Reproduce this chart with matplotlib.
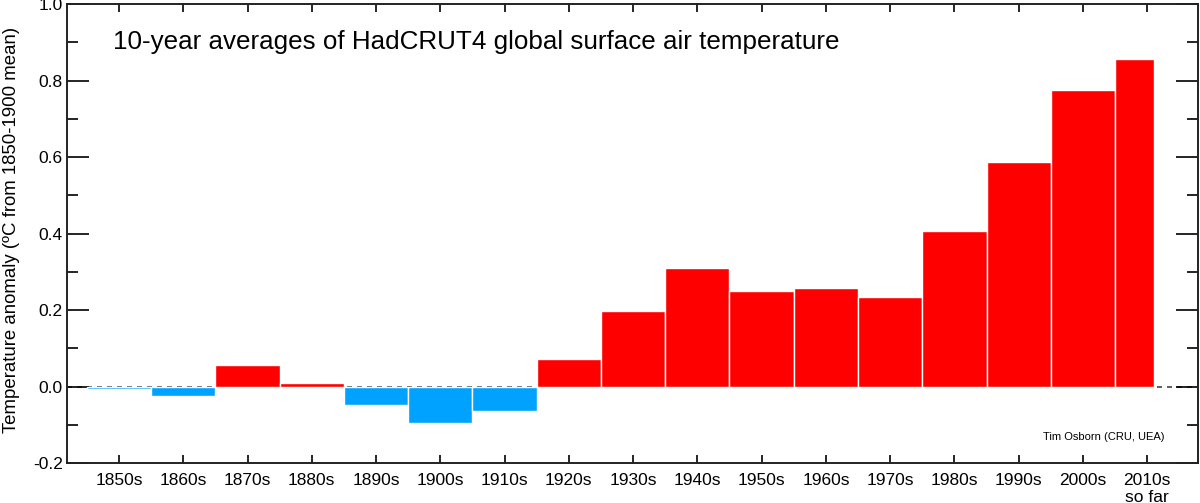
import matplotlib.pyplot as plt
from matplotlib.ticker import MultipleLocator

plt.rcParams["font.family"] = ["Liberation Sans", "DejaVu Sans"]

decades = [1850, 1860, 1870, 1880, 1890, 1900, 1910, 1920, 1930,
           1940, 1950, 1960, 1970, 1980, 1990, 2000, 2010]
widths = [10] * 16 + [6]  # 2010s only covers 2010-2015 so far
anomaly = [-0.007, -0.024, 0.056, 0.010, -0.048, -0.095, -0.065, 0.072, 0.197,
           0.310, 0.249, 0.257, 0.233, 0.407, 0.586, 0.776, 0.855]
labels = [f"{d}s" for d in decades[:-1]] + ["2010s\nso far"]

colors = ["#ff0000" if v > 0 else "#00a2ff" for v in anomaly]

fig = plt.figure(figsize=(12, 5.03), dpi=100)
ax = fig.add_axes([0.0558, 0.0795, 0.9425, 0.9125])

ax.axhline(0, color="#444444", lw=1.2, ls=(0, (3, 3)), zorder=1)
ax.bar(decades, anomaly, width=widths, align="edge", color=colors,
       edgecolor="white", linewidth=1, zorder=2)

ax.set_xlim(1846.9, 2022.9)
ax.set_ylim(-0.2, 1.0)

ax.set_xticks([d + 5 for d in decades])
ax.set_xticklabels(labels)
ax.yaxis.set_major_locator(MultipleLocator(0.2))
ax.yaxis.set_minor_locator(MultipleLocator(0.1))
ax.yaxis.set_major_formatter(lambda v, p: f"{v:.1f}")

ax.tick_params(axis="x", direction="in", length=6, width=1.2, top=True,
               labelsize=12.5, pad=7)
ax.tick_params(axis="y", which="major", direction="in", length=16, width=1.2,
               right=True, labelsize=12.5, pad=3)
ax.tick_params(axis="y", which="minor", direction="in", length=8, width=1.2,
               right=True)
for s in ax.spines.values():
    s.set_linewidth(1.4)
    s.set_color("#222222")

# y label placed by hand so it sits in the narrow left margin
fig.text(12 / 1200, 1 - 230 / 503, "Temperature anomaly (ºC from 1850-1900 mean)",
         rotation=90, ha="center", va="center", fontsize=13.4)

ax.text(0.0407, 0.917, "10-year averages of HadCRUT4 global surface air temperature",
        transform=ax.transAxes, ha="left", va="center", fontsize=18.7)
ax.text(0.970, 0.057, "Tim Osborn (CRU, UEA)", transform=ax.transAxes,
        ha="right", va="center", fontsize=8)

plt.savefig("out.png", dpi=100)
